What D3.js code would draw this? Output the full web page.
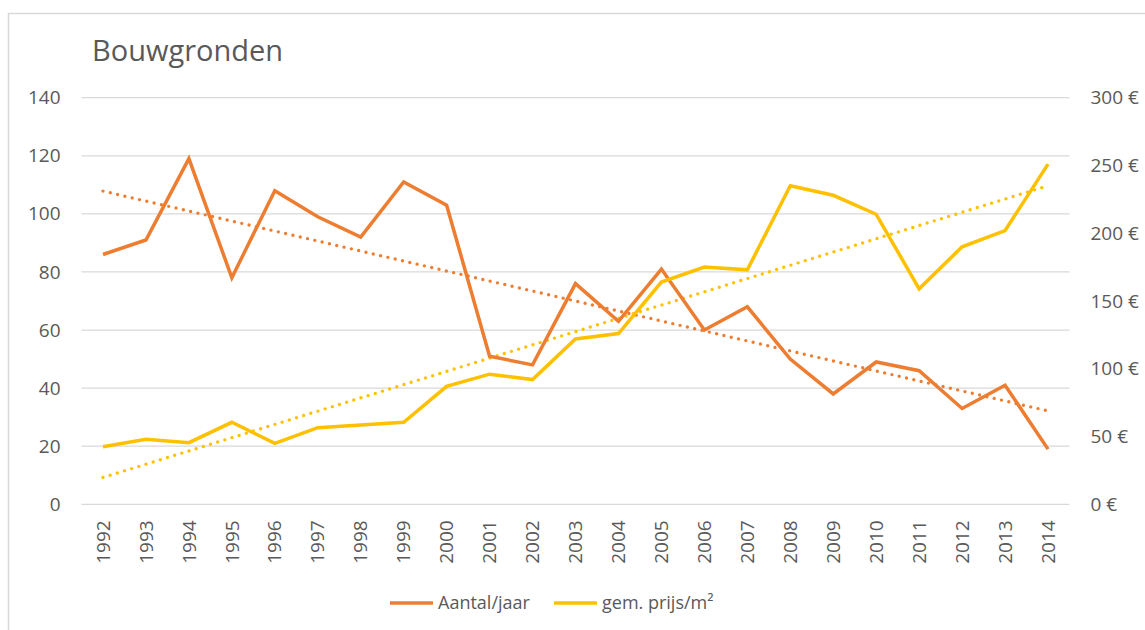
<!DOCTYPE html>
<html>
<head>
<meta charset="utf-8">
<script src="https://cdn.jsdelivr.net/npm/d3@7"></script>
<style>
  body { margin: 0; background: #fff; }
  text { font-family: "Open Sans", sans-serif; fill: #595959; }
</style>
</head>
<body>
<div id="chart"></div>
<script>
var years = [1992, 1993, 1994, 1995, 1996, 1997, 1998, 1999, 2000, 2001, 2002, 2003,
             2004, 2005, 2006, 2007, 2008, 2009, 2010, 2011, 2012, 2013, 2014];
var aantal = [86, 91, 119, 78, 108, 99, 92, 111, 103, 51, 48, 76,
              63, 81, 60, 68, 50, 38, 49, 46, 33, 41, 19];
var prijs = [42.5, 48, 45.5, 60.5, 45, 56.5, 58.5, 60.5, 87, 96, 92, 122,
             126, 164, 175, 173, 235, 228, 214, 159, 190, 202, 251];
var leftTicks = [0, 20, 40, 60, 80, 100, 120, 140];
var rightTicks = [0, 50, 100, 150, 200, 250, 300];
var title = "Bouwgronden";
var seriesNames = ["Aantal/jaar", "gem. prijs/m²"];
var colors = ["#ED7D31", "#FFC000"];

var width = 1145, height = 630;
var plotL = 81.5, plotR = 1069.5, plotT = 97.7, plotB = 504.3;

var svg = d3.select("#chart").append("svg")
  .attr("width", width)
  .attr("height", height);

// chart frame
svg.append("rect")
  .attr("x", 8.5).attr("y", 13.5)
  .attr("width", 1200).attr("height", 700)
  .attr("fill", "none")
  .attr("stroke", "#D9D9D9")
  .attr("stroke-width", 1.5);

var x = d3.scaleBand().domain(years).range([plotL, plotR]);
var yL = d3.scaleLinear().domain([0, 140]).range([plotB, plotT]);
var yR = d3.scaleLinear().domain([0, 300]).range([plotB, plotT]);
function cx(d) { return x(d) + x.bandwidth() / 2; }

// gridlines
svg.append("g").selectAll("line")
  .data(leftTicks)
  .enter().append("line")
  .attr("x1", plotL).attr("x2", plotR)
  .attr("y1", function(d) { return yL(d); })
  .attr("y2", function(d) { return yL(d); })
  .attr("stroke", "#D9D9D9")
  .attr("stroke-width", 1.3);

// left axis
var axL = svg.append("g")
  .attr("transform", "translate(" + plotL + ",0)")
  .call(d3.axisLeft(yL).tickValues(leftTicks).tickSize(0).tickPadding(21));
axL.select(".domain").remove();
axL.selectAll("text").style("font-size", "19px").attr("fill", "#595959").attr("font-family", "Open Sans");

// right axis
var axR = svg.append("g")
  .attr("transform", "translate(" + plotR + ",0)")
  .call(d3.axisRight(yR).tickValues(rightTicks).tickSize(0).tickPadding(21)
    .tickFormat(function(d) { return d + " €"; }));
axR.select(".domain").remove();
axR.selectAll("text").style("font-size", "19px").attr("fill", "#595959").attr("font-family", "Open Sans");

// x axis (rotated years)
var axX = svg.append("g")
  .attr("transform", "translate(0," + plotB + ")")
  .call(d3.axisBottom(x).tickSize(0).tickPadding(0));
axX.select(".domain").remove();
axX.selectAll("text")
  .style("font-size", "19px").attr("fill", "#595959").attr("font-family", "Open Sans")
  .attr("text-anchor", "end")
  .attr("transform", "rotate(-90)")
  .attr("x", -16).attr("y", 0).attr("dy", "0.35em");

// linear trend
function trend(vals) {
  var n = vals.length, sx = 0, sy = 0, sxx = 0, sxy = 0;
  vals.forEach(function(v, i) { sx += i; sy += v; sxx += i * i; sxy += i * v; });
  var b = (n * sxy - sx * sy) / (n * sxx - sx * sx);
  var a = (sy - b * sx) / n;
  return vals.map(function(v, i) { return a + b * i; });
}

var series = [
  { vals: aantal, y: yL, color: colors[0] },
  { vals: prijs, y: yR, color: colors[1] }
];

series.forEach(function(s) {
  var line = d3.line()
    .x(function(d, i) { return cx(years[i]); })
    .y(function(d) { return s.y(d); });
  svg.append("path")
    .datum(trend(s.vals))
    .attr("d", line)
    .attr("fill", "none")
    .attr("stroke", s.color)
    .attr("stroke-width", 3.4)
    .attr("stroke-linecap", "round")
    .attr("stroke-dasharray", "0 7.5");
});

series.forEach(function(s) {
  var line = d3.line()
    .x(function(d, i) { return cx(years[i]); })
    .y(function(d) { return s.y(d); });
  svg.append("path")
    .datum(s.vals)
    .attr("d", line)
    .attr("fill", "none")
    .attr("stroke", s.color)
    .attr("stroke-width", 3.5)
    .attr("stroke-linejoin", "miter");
});

// title
svg.append("text")
  .attr("x", 92).attr("y", 61)
  .style("font-size", "29px")
  .text(title);

// legend
var legendX = [390, 554];
var lg = svg.append("g").selectAll("g")
  .data(seriesNames)
  .enter().append("g")
  .attr("transform", function(d, i) { return "translate(" + legendX[i] + ",603)"; });
lg.append("line")
  .attr("x1", 0).attr("x2", 43)
  .attr("stroke", function(d, i) { return colors[i]; })
  .attr("stroke-width", 3.5);
lg.append("text")
  .attr("x", 48).attr("dy", "0.35em")
  .style("font-size", "18px")
  .text(function(d) { return d; });
</script>
</body>
</html>
